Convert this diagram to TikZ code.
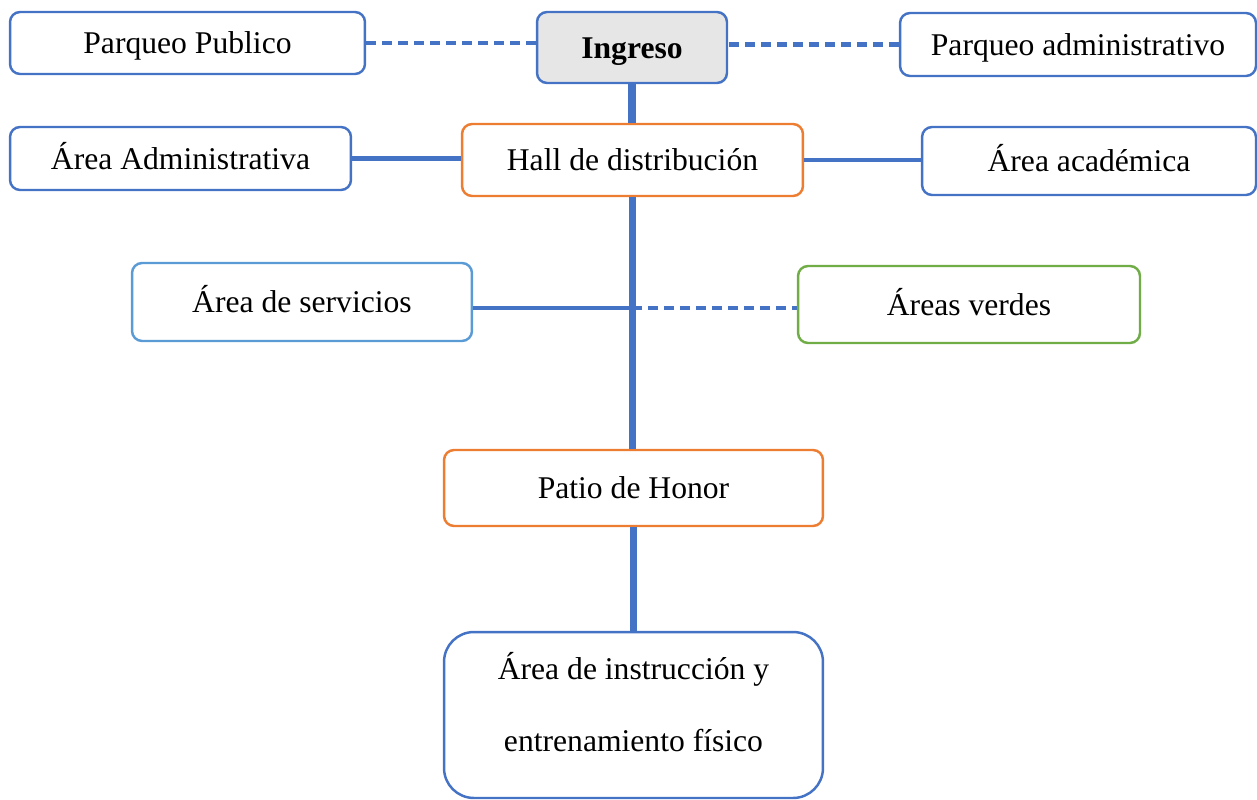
\documentclass[tikz,border=0pt]{standalone}
\usepackage{fontspec}
\setmainfont{Liberation Serif}
\usetikzlibrary{positioning}
\definecolor{azul}{HTML}{4472C4}
\definecolor{celeste}{HTML}{5B9BD5}
\definecolor{naranja}{HTML}{ED7D31}
\definecolor{verde}{HTML}{70AD47}
\definecolor{gris}{HTML}{E7E6E6}

\begin{document}
\begin{tikzpicture}[x=0.02cm, y=-0.02cm,
  marco/.style={draw=azul, line width=1.4pt, rounded corners=5.7pt, fill=white,
    inner sep=0pt, align=center, font=\fontsize{18}{22}\selectfont},
  caja/.style={marco, text height=12.5pt, text depth=0pt},
  linea/.style={draw=azul, line width=2.8pt},
  eje/.style={draw=azul, line width=4.5pt},
  punteado/.style={linea, dash pattern=on 5.7pt off 3.4pt}]
  \useasboundingbox (0,0) rectangle (1257,800);

  \node[caja, minimum width=7.10cm, minimum height=1.24cm] (publico) at (187.5,43) {Parqueo Publico};
  \node[caja, fill=gris, minimum width=3.80cm, minimum height=1.42cm] (ingreso) at (632,47.5) {\textbf{Ingreso}};
  \node[caja, minimum width=7.12cm, minimum height=1.26cm] (admpark) at (1078,44.5) {Parqueo administrativo};
  \node[caja, minimum width=6.82cm, minimum height=1.26cm] (admin) at (180.5,158.5) {Área Administrativa};
  \node[caja, draw=naranja, minimum width=6.82cm, minimum height=1.44cm] (hall) at (632.5,160) {Hall de distribución};
  \node[caja, minimum width=6.68cm, minimum height=1.36cm] (academica) at (1089,161) {Área académica};
  \node[caja, draw=celeste, minimum width=6.80cm, minimum height=1.56cm] (servicios) at (302,302) {Área de servicios};
  \node[caja, draw=verde, minimum width=6.84cm, minimum height=1.54cm] (verdes) at (969,304.5) {Áreas verdes};
  \node[caja, draw=naranja, minimum width=7.58cm, minimum height=1.52cm] (patio) at (633.5,488) {Patio de Honor};
  \node[marco, rounded corners=17pt, minimum width=7.58cm, minimum height=3.32cm, text depth=15pt,
    font=\fontsize{18}{41.4}\selectfont] (instruccion) at (633.5,715) {Área de instrucción y\\entrenamiento físico};

  \coordinate (cruce) at (632,308);

  \draw[punteado] (publico.east) -- (publico.east -| ingreso.west);
  \draw[punteado] (admpark.west) -- (admpark.west -| ingreso.east);
  \draw[eje] (ingreso.south) -- (ingreso.south |- hall.north);
  \draw[linea] (admin.east) -- (admin.east -| hall.west);
  \draw[linea] (hall.east) -- (hall.east -| academica.west);
  \draw[eje] (hall.south) -- (hall.south |- patio.north);
  \draw[linea] (servicios.east |- cruce) -- (cruce);
  \draw[punteado] (cruce) -- (cruce -| verdes.west);
  \draw[eje] (patio.south) -- (patio.south |- instruccion.north);
\end{tikzpicture}
\end{document}
